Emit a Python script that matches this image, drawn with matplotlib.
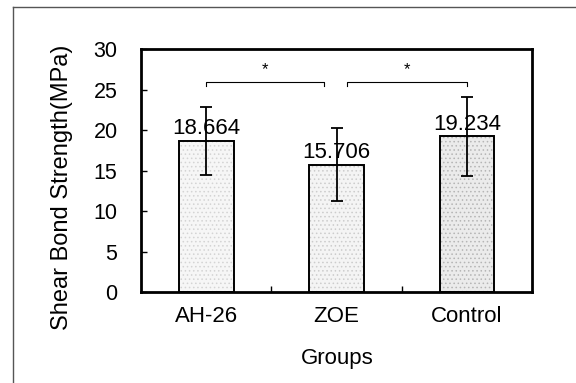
import numpy as np
import matplotlib.pyplot as plt
from matplotlib.lines import Line2D

plt.rcParams['font.family'] = ['Liberation Sans', 'DejaVu Sans']
plt.rcParams['hatch.linewidth'] = 0.6

# data
groups = ['AH-26', 'ZOE', 'Control']
means = [18.664, 15.706, 19.234]
sd = [4.2, 4.5, 4.9]
sig_pairs = [(0, 1), (1, 2)]
sig_level = 26.0

fig = plt.figure(figsize=(5.76, 3.83), dpi=100)
ax = fig.add_axes([0.245, 0.2376, 0.679, 0.634])

x = np.arange(len(groups))
fills = ['#f6f6f6', '#f4f4f4', '#ebebeb']
hatch_cols = ['#d4d4d4', '#cccccc', '#b5b5b5']
for xi, m, fc, hc in zip(x, means, fills, hatch_cols):
    ax.bar(xi, m, width=0.42, color=fc, edgecolor=hc, hatch='....', linewidth=0, zorder=1)
ax.bar(x, means, width=0.42, color='none', edgecolor='black', linewidth=1.4, zorder=2)
ax.errorbar(x, means, yerr=sd, fmt='none', ecolor='black', elinewidth=1.3, capsize=4, capthick=1.3, zorder=3)

for xi, m in zip(x, means):
    ax.text(xi, m + 0.2, f'{m:.3f}', ha='center', va='bottom', fontsize=16, zorder=4)

# significance brackets
for a, b in sig_pairs:
    xa = a + (0.08 if a > 0 else 0.0)
    xb = b - (0.1 if b == 1 else 0.0)
    ax.plot([xa, xa, xb, xb], [sig_level - 0.5, sig_level, sig_level, sig_level - 0.5], color='black', lw=0.8)
    ax.text((xa + xb) / 2, sig_level + 0.5, '*', ha='center', va='bottom', fontsize=12)

ax.set_xlim(-0.5, 2.5)
ax.set_ylim(0, 30)
ax.set_yticks(np.arange(0, 31, 5))
ax.set_xticks(x)
ax.set_xticklabels(groups)
ax.set_xticks([0.5, 1.5], minor=True)
ax.tick_params(axis='x', which='major', length=0, pad=10, labelsize=16)
ax.tick_params(axis='x', which='minor', direction='in', length=4, width=1)
ax.tick_params(axis='y', direction='in', length=4, width=1, pad=17, labelsize=15.5)
for s in ax.spines.values():
    s.set_linewidth(2)

ax.set_ylabel('Shear Bond Strength(MPa)', fontsize=17)
ax.yaxis.set_label_coords(-0.175, 0.43)
ax.set_xlabel('Groups', fontsize=16)
ax.xaxis.set_label_coords(0.502, -0.23)

# page frame
fig.add_artist(Line2D([13 / 576, 1], [1 - 7 / 383, 1 - 7 / 383], color='#555555', lw=1))
fig.add_artist(Line2D([13 / 576, 13 / 576], [0, 1 - 7 / 383], color='#555555', lw=1))

fig.savefig('out.png', dpi=100, facecolor='white')
